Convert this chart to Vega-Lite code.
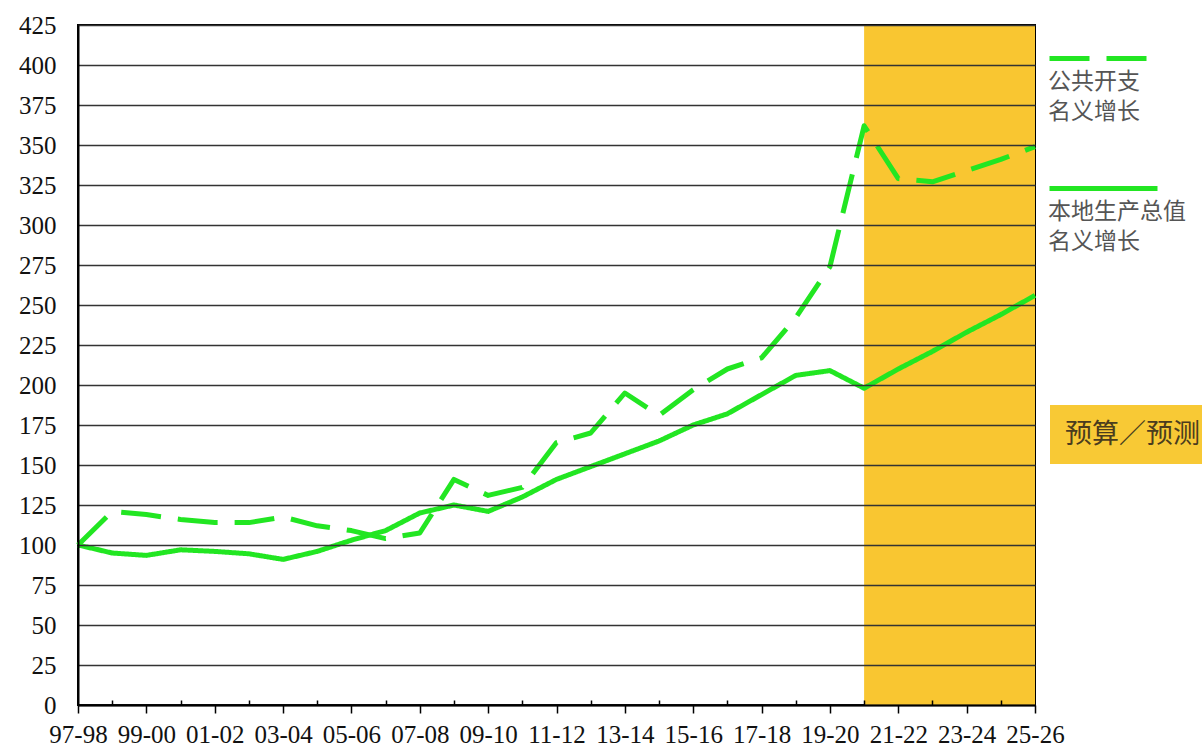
{
  "$schema": "https://vega.github.io/schema/vega-lite/v6.json",
  "width": 957,
  "height": 680,
  "autosize": {"type": "none"},
  "padding": {"left": 78, "top": 25, "right": 167, "bottom": 42},
  "background": "white",
  "config": {
    "view": {"stroke": "black", "strokeWidth": 2},
    "font": "Liberation Serif, Times New Roman, DejaVu Serif, serif",
    "style": {"guide-label": {"lineHeight": 30}}
  },
  "layer": [
    {
      "data": {"values": [{"start": "20-21", "end": "25-26", "period": "预算／预测"}]},
      "mark": {"type": "rect"},
      "encoding": {
        "x": {"field": "start", "type": "ordinal"},
        "x2": {"field": "end"},
        "fill": {
          "field": "period",
          "type": "nominal",
          "scale": {"range": ["#F9C631"]},
          "legend": {
            "title": null,
            "orient": "none",
            "legendX": 972,
            "legendY": 380,
            "fillColor": "#F8C935",
            "padding": 16,
            "symbolSize": 0,
            "symbolOpacity": 0,
            "labelOffset": -28,
            "labelFont": "Noto Sans CJK SC",
            "labelFontSize": 27,
            "labelColor": "#4a3c1e",
            "labelLimit": 400
          }
        }
      }
    },
    {
      "data": {
        "values": [
          {"year": "97-98", "series": "本地生产总值名义增长", "value": 100},
          {"year": "98-99", "series": "本地生产总值名义增长", "value": 95},
          {"year": "99-00", "series": "本地生产总值名义增长", "value": 93.5},
          {"year": "00-01", "series": "本地生产总值名义增长", "value": 97},
          {"year": "01-02", "series": "本地生产总值名义增长", "value": 96},
          {"year": "02-03", "series": "本地生产总值名义增长", "value": 94.5},
          {"year": "03-04", "series": "本地生产总值名义增长", "value": 91},
          {"year": "04-05", "series": "本地生产总值名义增长", "value": 96},
          {"year": "05-06", "series": "本地生产总值名义增长", "value": 103},
          {"year": "06-07", "series": "本地生产总值名义增长", "value": 109},
          {"year": "07-08", "series": "本地生产总值名义增长", "value": 120},
          {"year": "08-09", "series": "本地生产总值名义增长", "value": 125},
          {"year": "09-10", "series": "本地生产总值名义增长", "value": 121},
          {"year": "10-11", "series": "本地生产总值名义增长", "value": 130},
          {"year": "11-12", "series": "本地生产总值名义增长", "value": 141},
          {"year": "12-13", "series": "本地生产总值名义增长", "value": 149},
          {"year": "13-14", "series": "本地生产总值名义增长", "value": 157},
          {"year": "14-15", "series": "本地生产总值名义增长", "value": 165},
          {"year": "15-16", "series": "本地生产总值名义增长", "value": 175},
          {"year": "16-17", "series": "本地生产总值名义增长", "value": 182},
          {"year": "17-18", "series": "本地生产总值名义增长", "value": 194},
          {"year": "18-19", "series": "本地生产总值名义增长", "value": 206},
          {"year": "19-20", "series": "本地生产总值名义增长", "value": 209},
          {"year": "20-21", "series": "本地生产总值名义增长", "value": 198},
          {"year": "21-22", "series": "本地生产总值名义增长", "value": 210},
          {"year": "22-23", "series": "本地生产总值名义增长", "value": 221},
          {"year": "23-24", "series": "本地生产总值名义增长", "value": 233},
          {"year": "24-25", "series": "本地生产总值名义增长", "value": 244},
          {"year": "25-26", "series": "本地生产总值名义增长", "value": 256},
          {"year": "97-98", "series": "公共开支名义增长", "value": 100},
          {"year": "98-99", "series": "公共开支名义增长", "value": 121},
          {"year": "99-00", "series": "公共开支名义增长", "value": 119},
          {"year": "00-01", "series": "公共开支名义增长", "value": 116},
          {"year": "01-02", "series": "公共开支名义增长", "value": 114},
          {"year": "02-03", "series": "公共开支名义增长", "value": 114},
          {"year": "03-04", "series": "公共开支名义增长", "value": 117.5},
          {"year": "04-05", "series": "公共开支名义增长", "value": 112},
          {"year": "05-06", "series": "公共开支名义增长", "value": 109},
          {"year": "06-07", "series": "公共开支名义增长", "value": 104},
          {"year": "07-08", "series": "公共开支名义增长", "value": 107.5},
          {"year": "08-09", "series": "公共开支名义增长", "value": 141},
          {"year": "09-10", "series": "公共开支名义增长", "value": 131},
          {"year": "10-11", "series": "公共开支名义增长", "value": 136},
          {"year": "11-12", "series": "公共开支名义增长", "value": 164},
          {"year": "12-13", "series": "公共开支名义增长", "value": 170},
          {"year": "13-14", "series": "公共开支名义增长", "value": 195},
          {"year": "14-15", "series": "公共开支名义增长", "value": 181},
          {"year": "15-16", "series": "公共开支名义增长", "value": 197},
          {"year": "16-17", "series": "公共开支名义增长", "value": 210},
          {"year": "17-18", "series": "公共开支名义增长", "value": 217},
          {"year": "18-19", "series": "公共开支名义增长", "value": 242},
          {"year": "19-20", "series": "公共开支名义增长", "value": 274},
          {"year": "20-21", "series": "公共开支名义增长", "value": 362},
          {"year": "21-22", "series": "公共开支名义增长", "value": 329},
          {"year": "22-23", "series": "公共开支名义增长", "value": 327},
          {"year": "23-24", "series": "公共开支名义增长", "value": 334},
          {"year": "24-25", "series": "公共开支名义增长", "value": 341},
          {"year": "25-26", "series": "公共开支名义增长", "value": 349}
        ]
      },
      "mark": {"type": "line", "color": "#22E622", "strokeWidth": 5, "strokeCap": "butt", "strokeJoin": "round"},
      "encoding": {
        "x": {"field": "year", "type": "ordinal"},
        "y": {"field": "value", "type": "quantitative"},
        "strokeDash": {
          "field": "series",
          "type": "nominal",
          "scale": {"domain": ["公共开支名义增长", "本地生产总值名义增长"], "range": [[40, 17], [1, 0]]},
          "legend": {
            "title": null,
            "orient": "none",
            "legendX": 969,
            "legendY": -11,
            "symbolType": "M-1,-0.222H1",
            "symbolSize": 11664,
            "symbolStrokeWidth": 5,
            "symbolStrokeColor": "#22E622",
            "labelOffset": -112,
            "labelBaseline": "top",
            "labelFont": "Noto Sans CJK SC",
            "labelFontSize": 23,
            "labelColor": "#555555",
            "labelLimit": 400,
            "rowPadding": 20,
            "labelExpr": "datum.label == '公共开支名义增长' ? ['公共开支', '名义增长'] : ['本地生产总值', '名义增长']"
          }
        }
      }
    }
  ],
  "resolve": {"legend": {"fill": "independent", "strokeDash": "independent"}},
  "encoding": {
    "x": {
      "scale": {
        "type": "point",
        "padding": 0,
        "domain": ["97-98","98-99","99-00","00-01","01-02","02-03","03-04","04-05","05-06","06-07","07-08","08-09","09-10","10-11","11-12","12-13","13-14","14-15","15-16","16-17","17-18","18-19","19-20","20-21","21-22","22-23","23-24","24-25","25-26"]
      },
      "axis": {
        "title": null,
        "labelAngle": 0,
        "labelFont": "Liberation Serif, Times New Roman, DejaVu Serif, serif",
        "labelFontSize": 25,
        "labelColor": "#111111",
        "labelPadding": 9,
        "labelExpr": "toNumber(slice(datum.value, 0, 2)) % 2 == 1 ? datum.value : ''",
        "tickColor": "black",
        "tickWidth": 1.5,
        "tickSize": {"condition": {"test": "toNumber(slice(datum.value, 0, 2)) % 2 == 1", "value": 8}, "value": -5},
        "domainColor": "black",
        "domainWidth": 2,
        "grid": false,
        "zindex": 1
      }
    },
    "y": {
      "scale": {"domain": [0, 425], "nice": false},
      "axis": {
        "title": null,
        "values": [0, 25, 50, 75, 100, 125, 150, 175, 200, 225, 250, 275, 300, 325, 350, 375, 400, 425],
        "labelFont": "Liberation Serif, Times New Roman, DejaVu Serif, serif",
        "labelFontSize": 25,
        "labelColor": "#111111",
        "labelPadding": 22,
        "tickSize": 0,
        "domainColor": "black",
        "domainWidth": 2,
        "grid": true,
        "gridColor": "#333333",
        "gridWidth": 1.3,
        "zindex": 1
      }
    }
  }
}
